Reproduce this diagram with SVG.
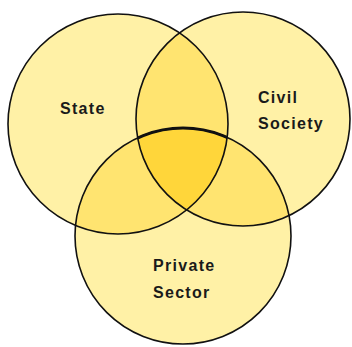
<svg xmlns="http://www.w3.org/2000/svg" width="352" height="347" viewBox="0 0 352 347">
<style>
.c{fill:#FFF1A6;stroke:none}
.o{fill:none;stroke:#111;stroke-width:1.6}
.d{fill:#FFE470}
.t{fill:#FFD63A}
.lbl{font-family:"Liberation Sans",Arial,sans-serif;font-weight:bold;font-size:16px;fill:#1a1a1a;letter-spacing:1.3px}
</style>
<defs>
<clipPath id="cS"><circle cx="118" cy="124" r="110"/></clipPath>
<clipPath id="cC"><circle cx="243" cy="119" r="107"/></clipPath>
<clipPath id="cP"><circle cx="183" cy="236" r="108"/></clipPath>
</defs>
<rect width="352" height="347" fill="#fff"/>
<g id="fills">
<circle class="c" cx="118" cy="124" r="110"/>
<circle class="c" cx="243" cy="119" r="107"/>
<circle class="c" cx="183" cy="236" r="108"/>
<g clip-path="url(#cS)"><circle class="d" cx="243" cy="119" r="107"/><circle class="d" cx="183" cy="236" r="108"/></g>
<g clip-path="url(#cC)"><circle class="d" cx="183" cy="236" r="108"/></g>
<g clip-path="url(#cS)"><g clip-path="url(#cC)"><circle class="t" cx="183" cy="236" r="108" stroke="#111" stroke-width="3"/></g></g>
</g>
<g id="state"><circle class="o" cx="118" cy="124" r="110"/><text class="lbl" x="60" y="114">State</text></g>
<g id="civil"><circle class="o" cx="243" cy="119" r="107"/><text class="lbl" x="258" y="103">Civil</text><text class="lbl" x="258" y="129">Society</text></g>
<g id="private"><circle class="o" cx="183" cy="236" r="108"/><text class="lbl" x="153" y="271">Private</text><text class="lbl" x="153" y="298">Sector</text></g>
</svg>
